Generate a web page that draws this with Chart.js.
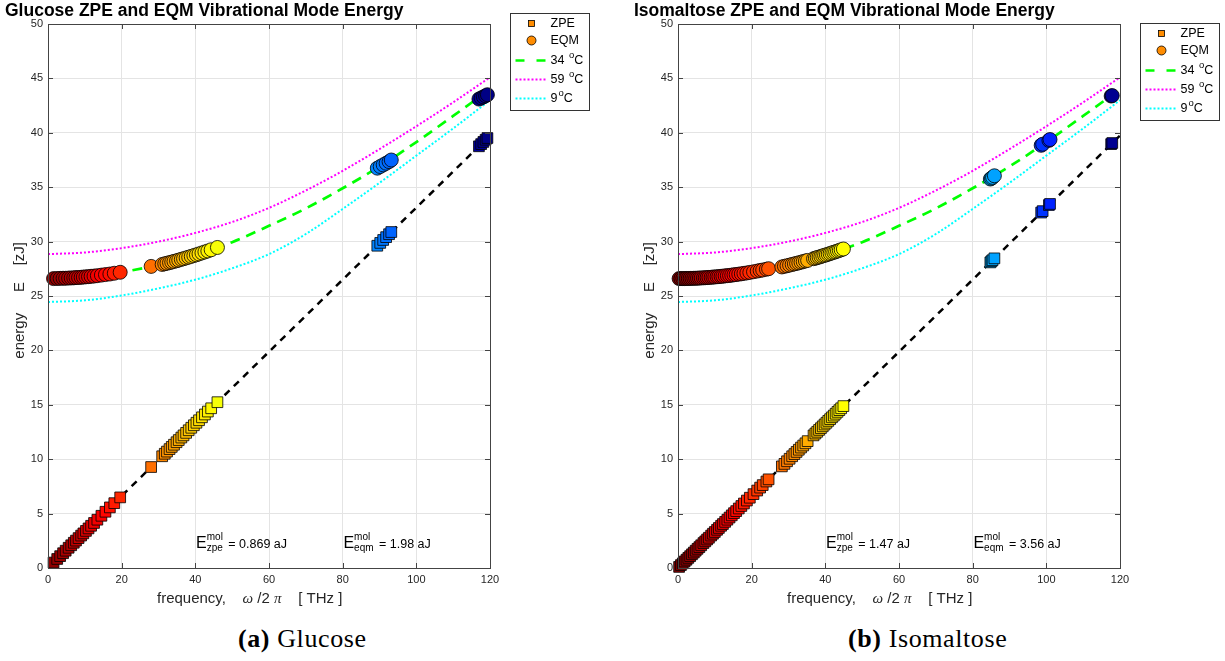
<!DOCTYPE html>
<html>
<head>
<meta charset="utf-8">
<script src="https://cdn.jsdelivr.net/npm/chart.js@4.4.0/dist/chart.umd.min.js"></script>
<style>
  body { margin: 0; background: #fff; width: 1225px; height: 661px; overflow: hidden; position: relative; }
  canvas { position: absolute; top: 0; }
  #glucoseChart { left: 0; }
  #isoChart { left: 630px; }
  .cap { position: absolute; top: 626px; line-height: 1; font-family: "Liberation Serif", "DejaVu Serif", serif; font-size: 26px; color: #000; white-space: nowrap; letter-spacing: 0.6px; }
</style>
</head>
<body>
<canvas id="glucoseChart" width="630" height="620"></canvas>
<canvas id="isoChart" width="595" height="620"></canvas>
<div class="cap" style="left:238px"><b>(a)</b> Glucose</div>
<div class="cap" style="left:848px"><b>(b)</b> Isomaltose</div>
<script>
// ---- data (frequency in THz, energy in zJ) ----
const glucoseFreq = [1.5, 2.5, 3.3, 4.1, 4.8, 5.6, 6.3, 7.0, 7.6, 8.3, 9.0, 9.6, 10.3, 11.0, 11.7, 12.5, 13.4, 14.5, 15.6, 16.8, 18.0, 19.6,
  28.0, 31.0, 31.7, 32.3, 33.0, 33.6, 34.2, 34.9, 35.5, 36.2, 36.8, 37.5, 38.2, 38.9, 39.6, 40.3, 41.0, 41.8, 42.6, 43.4, 44.3, 46.0,
  89.4, 90.2, 91.0, 91.8, 92.6, 93.2, 117.0, 117.6, 118.2, 118.8, 119.3];
const glucoseZpe = [0.50, 0.83, 1.09, 1.36, 1.59, 1.86, 2.09, 2.32, 2.52, 2.75, 2.98, 3.18, 3.41, 3.64, 3.88, 4.14, 4.44, 4.80, 5.17, 5.57, 5.96, 6.49,
  9.28, 10.27, 10.50, 10.70, 10.93, 11.13, 11.33, 11.56, 11.76, 11.99, 12.19, 12.42, 12.66, 12.89, 13.12, 13.35, 13.58, 13.85, 14.11, 14.38, 14.68, 15.24,
  29.62, 29.88, 30.15, 30.41, 30.68, 30.88, 38.76, 38.96, 39.16, 39.36, 39.52];
const glucoseEqm = [26.60, 26.61, 26.62, 26.63, 26.63, 26.65, 26.66, 26.67, 26.69, 26.70, 26.72, 26.74, 26.76, 26.78, 26.81, 26.83, 26.87, 26.92, 26.97, 27.02, 27.09, 27.18,
  27.72, 27.90, 27.96, 28.01, 28.07, 28.12, 28.18, 28.24, 28.30, 28.37, 28.43, 28.50, 28.57, 28.64, 28.72, 28.79, 28.87, 28.96, 29.05, 29.14, 29.25, 29.46,
  36.75, 36.90, 37.05, 37.20, 37.35, 37.50, 43.10, 43.20, 43.30, 43.40, 43.50];

const isoFreq = [0.3, 0.8, 1.3, 1.8, 2.3, 2.8, 3.3, 3.8, 4.3, 4.8, 5.3, 5.8, 6.3, 6.9, 7.4, 7.9, 8.4, 9.0, 9.5, 10.0, 10.6, 11.1, 11.7, 12.2, 12.8, 13.4, 14.0, 14.6, 15.2, 15.8,
  16.5, 17.2, 17.9, 18.7, 19.5, 20.5, 21.5, 22.3, 23.0, 24.0, 24.6,
  28.2, 28.9, 29.6, 30.3, 31.0, 31.6, 32.2, 32.8, 33.4, 34.0, 34.6, 35.2,
  36.8, 37.3, 37.8, 38.3, 38.8, 39.3, 39.8, 40.3, 40.8, 41.3, 41.8, 42.3, 42.8, 43.3, 43.8, 44.3, 44.9,
  84.8, 85.1, 85.4, 85.9, 98.6, 99.0, 100.7, 101.0, 117.6, 117.9];
const isoZpe = [0.10, 0.27, 0.43, 0.60, 0.76, 0.93, 1.09, 1.26, 1.42, 1.59, 1.76, 1.92, 2.09, 2.29, 2.45, 2.62, 2.78, 2.98, 3.15, 3.31, 3.51, 3.68, 3.88, 4.04, 4.24, 4.44, 4.64, 4.84, 5.04, 5.23,
  5.47, 5.70, 5.93, 6.20, 6.46, 6.79, 7.12, 7.39, 7.62, 7.95, 8.15,
  9.34, 9.57, 9.81, 10.04, 10.27, 10.47, 10.67, 10.87, 11.07, 11.26, 11.46, 11.66,
  12.19, 12.36, 12.52, 12.69, 12.85, 13.02, 13.19, 13.35, 13.52, 13.68, 13.85, 14.01, 14.18, 14.35, 14.51, 14.68, 14.88,
  28.09, 28.19, 28.29, 28.46, 32.67, 32.80, 33.36, 33.46, 38.96, 39.06];
const isoEqm = [26.60, 26.60, 26.60, 26.60, 26.61, 26.61, 26.62, 26.62, 26.63, 26.63, 26.64, 26.65, 26.66, 26.67, 26.68, 26.69, 26.71, 26.72, 26.74, 26.75, 26.77, 26.78, 26.81, 26.82, 26.85, 26.87, 26.89, 26.92, 26.95, 26.97,
  27.01, 27.04, 27.08, 27.12, 27.17, 27.23, 27.29, 27.35, 27.39, 27.46, 27.51,
  27.67, 27.73, 27.78, 27.84, 27.90, 27.95, 28.00, 28.05, 28.11, 28.16, 28.22, 28.27,
  28.43, 28.48, 28.53, 28.58, 28.63, 28.69, 28.74, 28.79, 28.85, 28.90, 28.96, 29.02, 29.07, 29.13, 29.19, 29.25, 29.32,
  35.75, 35.82, 35.90, 36.05, 38.85, 38.95, 39.30, 39.38, 43.38, 43.42];

// temperature curves (same in both panels)
const curveFreq = [0, 10, 20, 30, 40, 50, 60, 70, 80, 90, 100, 110, 120];
const curve34 = [26.6, 26.75, 27.2, 27.85, 28.75, 29.95, 31.45, 33.05, 34.9, 36.9, 39.15, 41.55, 44.0];
const curve59 = [28.85, 29.0, 29.4, 30.0, 30.8, 31.8, 33.1, 34.7, 36.5, 38.5, 40.6, 42.8, 45.1];
const curve9 = [24.45, 24.6, 25.05, 25.7, 26.5, 27.55, 28.85, 30.7, 33.0, 35.4, 37.9, 40.4, 43.0];

// ZPE guide line
const zpeLineFreq = [0, 120];
const zpeLineE = [0, 39.75];

const xTickStep = 20;
const yTickStep = 5;

const legendLabels = ['ZPE', 'EQM', '34', '59', '9'];

// ---- styling helpers ----
const SANS = '"Liberation Sans", Arial, Helvetica, sans-serif';

function jet(f) {
  // reversed jet colormap over 0..120 THz
  const t = 1 - f / 120;
  const c = v => Math.round(255 * Math.max(0, Math.min(1, v)));
  const r = c(Math.min(4 * t - 1.5, -4 * t + 4.5));
  const g = c(Math.min(4 * t - 0.5, -4 * t + 3.5));
  const b = c(Math.min(4 * t + 0.5, -4 * t + 2.5));
  return `rgb(${r},${g},${b})`;
}

function pts(xs, ys) {
  return xs.map((x, i) => ({ x: x, y: ys[i] }));
}

function drawEnergyNote(ctx, x, y, sub, value) {
  ctx.fillStyle = '#000';
  ctx.textAlign = 'left';
  ctx.textBaseline = 'alphabetic';
  ctx.font = '16px ' + SANS;
  ctx.fillText('E', x, y);
  const w = ctx.measureText('E').width;
  ctx.font = '10px ' + SANS;
  ctx.fillText('mol', x + w, y - 8);
  ctx.fillText(sub, x + w, y + 3);
  const w2 = Math.max(ctx.measureText('mol').width, ctx.measureText(sub).width);
  ctx.font = '12.5px ' + SANS;
  ctx.fillText(' = ' + value, x + w + w2 + 2, y);
}

function drawDegree(ctx, x, y, num) {
  ctx.font = '12.5px ' + SANS;
  ctx.fillText(num, x, y);
  let w = ctx.measureText(num).width;
  ctx.font = '9.5px ' + SANS;
  ctx.fillText('o', x + w + 1, y - 5);
  w += ctx.measureText('o').width + 1;
  ctx.font = '12.5px ' + SANS;
  ctx.fillText('C', x + w, y);
}

const decor = {
  id: 'decor',
  afterDatasetsDraw(chart, args, o) {
    const { ctx, chartArea: a, scales: { x, y } } = chart;
    ctx.save();
    // axes box and inward ticks
    ctx.strokeStyle = '#444';
    ctx.lineWidth = 1;
    ctx.strokeRect(a.left + 0.5, a.top + 0.5, a.right - a.left, a.bottom - a.top);
    ctx.beginPath();
    x.ticks.forEach(t => {
      const px = Math.round(x.getPixelForValue(t.value)) + 0.5;
      ctx.moveTo(px, a.bottom); ctx.lineTo(px, a.bottom - 5);
      ctx.moveTo(px, a.top); ctx.lineTo(px, a.top + 5);
    });
    y.ticks.forEach(t => {
      const py = Math.round(y.getPixelForValue(t.value)) + 0.5;
      ctx.moveTo(a.left, py); ctx.lineTo(a.left + 5, py);
      ctx.moveTo(a.right, py); ctx.lineTo(a.right - 5, py);
    });
    ctx.stroke();

    // title
    ctx.fillStyle = '#000';
    ctx.font = 'bold 17.5px ' + SANS;
    ctx.textAlign = 'left';
    ctx.textBaseline = 'alphabetic';
    ctx.fillText(o.title, o.titleX, 16);

    // x label
    let lx = a.left + 109;
    const ly = 603;
    ctx.fillStyle = '#262626';
    const parts = [['frequency,    ', '15px ' + SANS], ['\u03c9', 'italic 15px "Liberation Serif", serif'], [' /2 ', '15px ' + SANS],
      ['\u03c0', 'italic 15px "Liberation Serif", serif'], ['    [ THz ]', '15px ' + SANS]];
    parts.forEach(p => { ctx.font = p[1]; ctx.fillText(p[0], lx, ly); lx += ctx.measureText(p[0]).width; });

    // y label
    ctx.save();
    ctx.translate(24, 242);
    ctx.rotate(-Math.PI / 2);
    ctx.textAlign = 'right';
    ctx.font = '15px ' + SANS;
    ctx.fillText('energy     E    [zJ]', 0, 0);
    ctx.restore();

    // molar energy notes
    drawEnergyNote(ctx, x.getPixelForValue(40.2), y.getPixelForValue(1.8), 'zpe', o.zpeNote);
    drawEnergyNote(ctx, x.getPixelForValue(80.2), y.getPixelForValue(1.8), 'eqm', o.eqmNote);

    // legend
    const bx = a.right + 20.5, by = o.legendTop + 0.5;
    ctx.fillStyle = '#fff';
    ctx.fillRect(bx, by, 79, 97);
    ctx.strokeStyle = '#333';
    ctx.lineWidth = 1;
    ctx.strokeRect(bx, by, 79, 97);
    const rows = [10, 27, 47, 66, 85];
    const mx = bx + 21, tx = bx + 40;
    ctx.fillStyle = 'rgb(255,140,0)';
    ctx.strokeStyle = '#000';
    ctx.lineWidth = 0.8;
    ctx.fillRect(mx - 3, by + rows[0] - 3, 6, 6);
    ctx.strokeRect(mx - 3, by + rows[0] - 3, 6, 6);
    ctx.beginPath();
    ctx.arc(mx, by + rows[1], 4.5, 0, Math.PI * 2);
    ctx.fill(); ctx.stroke();
    const lineStyles = [['#00ff00', [9, 12], 2.5], ['#ff00ff', [2, 2], 2], ['#00ffff', [2, 2], 2]];
    lineStyles.forEach((s, i) => {
      ctx.strokeStyle = s[0]; ctx.setLineDash(s[1]); ctx.lineWidth = s[2];
      ctx.beginPath();
      ctx.moveTo(bx + 5, by + rows[i + 2]); ctx.lineTo(bx + 36, by + rows[i + 2]);
      ctx.stroke();
    });
    ctx.setLineDash([]);
    ctx.fillStyle = '#000';
    ctx.textBaseline = 'middle';
    ctx.font = '12.5px ' + SANS;
    ctx.fillText(legendLabels[0], tx, by + rows[0]);
    ctx.fillText(legendLabels[1], tx, by + rows[1]);
    drawDegree(ctx, tx, by + rows[2], legendLabels[2] + ' ');
    drawDegree(ctx, tx, by + rows[3], legendLabels[3] + ' ');
    drawDegree(ctx, tx, by + rows[4], legendLabels[4]);
    ctx.restore();
  }
};

function makeChart(id, freq, zpe, eqm, rightPad, extra) {
  const ctx = document.getElementById(id).getContext('2d');
  const tickFont = { size: 11, family: SANS };
  return new Chart(ctx, {
    type: 'scatter',
    data: {
      datasets: [
        {
          label: 'ZPE line', data: pts(zpeLineFreq, zpeLineE), showLine: true, pointRadius: 0,
          borderColor: '#000', borderWidth: 2.5, borderDash: [7, 6], order: 5
        },
        {
          label: '34 C', data: pts(curveFreq, curve34), showLine: true, pointRadius: 0, cubicInterpolationMode: 'monotone',
          borderColor: '#00ff00', borderWidth: 2.7, borderDash: [10, 7], order: 4
        },
        {
          label: '59 C', data: pts(curveFreq, curve59), showLine: true, pointRadius: 0, cubicInterpolationMode: 'monotone',
          borderColor: '#ff00ff', borderWidth: 2, borderDash: [2, 2], order: 4
        },
        {
          label: '9 C', data: pts(curveFreq, curve9), showLine: true, pointRadius: 0, cubicInterpolationMode: 'monotone',
          borderColor: '#00ffff', borderWidth: 2, borderDash: [2, 2], order: 4
        },
        {
          label: 'ZPE', data: pts(freq, zpe), pointStyle: 'rect', pointRadius: 7.6,
          pointBackgroundColor: freq.map(jet), pointBorderColor: '#000', pointBorderWidth: 0.8, clip: false, order: 1
        },
        {
          label: 'EQM', data: pts(freq, eqm), pointStyle: 'circle', pointRadius: 7,
          pointBackgroundColor: freq.map(jet), pointBorderColor: '#000', pointBorderWidth: 0.8, clip: false, order: 1
        }
      ]
    },
    options: {
      responsive: false,
      animation: false,
      events: [],
      layout: { padding: { top: 24, right: rightPad, left: 0, bottom: 0 } },
      plugins: { legend: { display: false }, tooltip: { enabled: false }, decor: extra },
      scales: {
        x: {
          type: 'linear', min: 0, max: 120,
          ticks: { stepSize: xTickStep, padding: 5, color: '#262626', font: tickFont, maxRotation: 0 },
          grid: { color: '#e4e4e4', drawTicks: false },
          border: { display: false },
          afterFit(s) { s.height = 52; }
        },
        y: {
          type: 'linear', min: 0, max: 50,
          ticks: { stepSize: yTickStep, padding: 5, color: '#262626', font: tickFont },
          grid: { color: '#e4e4e4', drawTicks: false },
          border: { display: false },
          afterFit(s) { s.width = 48; }
        }
      }
    },
    plugins: [decor]
  });
}

makeChart('glucoseChart', glucoseFreq, glucoseZpe, glucoseEqm, 140, {
  title: 'Glucose ZPE and EQM Vibrational Mode Energy', titleX: 5,
  zpeNote: '0.869 aJ', eqmNote: '1.98 aJ', legendTop: 13
});
makeChart('isoChart', isoFreq, isoZpe, isoEqm, 105, {
  title: 'Isomaltose ZPE and EQM Vibrational Mode Energy', titleX: 4,
  zpeNote: '1.47 aJ', eqmNote: '3.56 aJ', legendTop: 23
});
</script>
</body>
</html>
